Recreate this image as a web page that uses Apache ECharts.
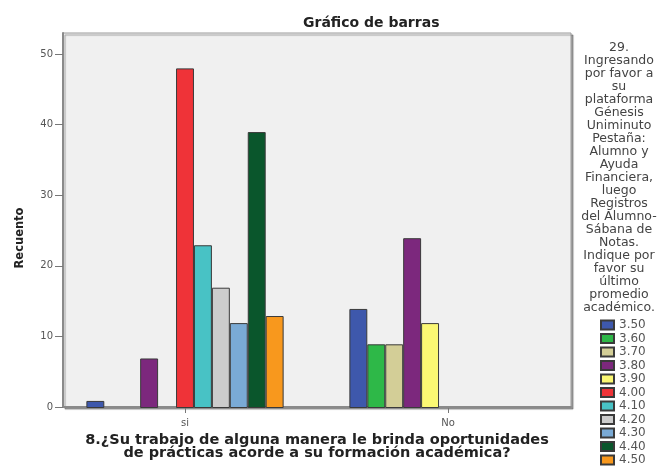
<!DOCTYPE html>
<html>
<head>
<meta charset="utf-8">
<script src="https://cdn.jsdelivr.net/npm/echarts@6/dist/echarts.min.js"></script>
<style>html,body{margin:0;padding:0;background:#fff}#c{width:663px;height:466px}</style>
</head>
<body>
<div id="c"></div>
<script>
const categories = ['si', 'No'];
const seriesNames = ['3.50','3.60','3.70','3.80','3.90','4.00','4.10','4.20','4.30','4.40','4.50'];
const siValues = [1, 0, 0, 7, 0, 48, 23, 17, 12, 39, 13];
const noValues = [14, 9, 9, 24, 12, 0, 0, 0, 0, 0, 0];
const colors = ['#3E58AC','#2EB848','#D3CE97','#7C287D','#FBF873','#EF3338','#48C2C5','#CCCCCC','#7AAAD5','#0A562C','#F8981D'];
const yTicks = [0, 10, 20, 30, 40, 50];
const chartTitle = 'Gráfico de barras';
const yTitle = 'Recuento';
const xTitle = '8.¿Su trabajo de alguna manera le brinda oportunidades\nde prácticas acorde a su formación académica?';
const legendTitle = ['29.', 'Ingresando', 'por favor a', 'su', 'plataforma', 'Génesis', 'Uniminuto', 'Pestaña:', 'Alumno y', 'Ayuda', 'Financiera,', 'luego', 'Registros', 'del Alumno-', 'Sábana de', 'Notas.', 'Indique por', 'favor su', 'último', 'promedio', 'académico.'];

const chart = echarts.init(document.getElementById('c'), null, {renderer: 'canvas'});
const series = seriesNames.map((n, i) => ({
  name: n,
  type: 'bar',
  xAxisIndex: 1,
  yAxisIndex: 1,
  barGap: '0%',
  barCategoryGap: '25%',
  data: [siValues[i], noValues[i]].map(v => (v === 0 ? null : v)),
  itemStyle: {color: colors[i], borderColor: '#3a3a3a', borderWidth: 1},
  emphasis: {disabled: true},
  animation: false
}));

chart.setOption({
  animation: false,
  title: [
    {text: chartTitle, left: 298, top: 11,
     textStyle: {fontFamily: 'DejaVu Sans', fontWeight: 'bold', fontSize: 14, color: '#222'}},
    {text: legendTitle.join('\n'), left: 614, top: 36, textAlign: 'center',
     textStyle: {fontFamily: 'DejaVu Sans', fontWeight: 'normal', fontSize: 12.5, lineHeight: 13, color: '#444'}}
  ],
  graphic: [
    {type: 'text', x: 20, y: 238, rotation: Math.PI / 2,
     style: {text: yTitle, align: 'center', verticalAlign: 'middle',
       font: 'bold 11.5px "DejaVu Sans"', fill: '#222'}}
  ],
  grid: [
    {left: 63, right: 92, top: 33, bottom: 58, show: true, backgroundColor: '#f0f0f0',
     borderColor: '#9a9a9a', borderWidth: 1,
     shadowColor: 'rgba(0,0,0,0.35)', shadowOffsetX: 2, shadowOffsetY: 2, shadowBlur: 1},
    {left: 53.5, right: 83.5, top: 33, bottom: 58}
  ],
  legend: {
    orient: 'vertical', left: 600, top: 319, height: 220, padding: 0,
    itemWidth: 13, itemHeight: 9, itemGap: 1.5,
    icon: 'rect', selectedMode: false,
    textStyle: {fontFamily: 'DejaVu Sans', fontSize: 12, color: '#555'},
    data: seriesNames
  },
  xAxis: [
    {type: 'category', gridIndex: 0, data: categories,
     axisLine: {show: true, lineStyle: {color: '#8a8a8a', width: 2}},
     axisTick: {show: false}, axisLabel: {show: false},
     name: xTitle, nameLocation: 'middle', nameGap: 27,
     nameTextStyle: {fontFamily: 'DejaVu Sans', fontWeight: 'bold', fontSize: 14.5, lineHeight: 13, color: '#222'}},
    {type: 'category', gridIndex: 1, data: categories,
     axisLine: {show: false},
     axisTick: {show: true, alignWithLabel: true, length: 5, lineStyle: {color: '#777'}},
     axisLabel: {fontFamily: 'DejaVu Sans', fontSize: 10, color: '#555', margin: 10}}
  ],
  yAxis: [
    {type: 'value', gridIndex: 0, min: 0, max: 53, interval: 10,
     axisLine: {show: true, lineStyle: {color: '#8a8a8a', width: 2}},
     axisTick: {show: true, length: 8, customValues: yTicks, lineStyle: {color: '#777'}},
     splitLine: {show: false},
     axisLabel: {fontFamily: 'DejaVu Sans', fontSize: 10, color: '#555', margin: 10, customValues: yTicks}},
    {type: 'value', gridIndex: 1, min: 0, max: 53, interval: 10, show: false, splitLine: {show: false}}
  ],
  series: series
});
</script>
</body>
</html>
